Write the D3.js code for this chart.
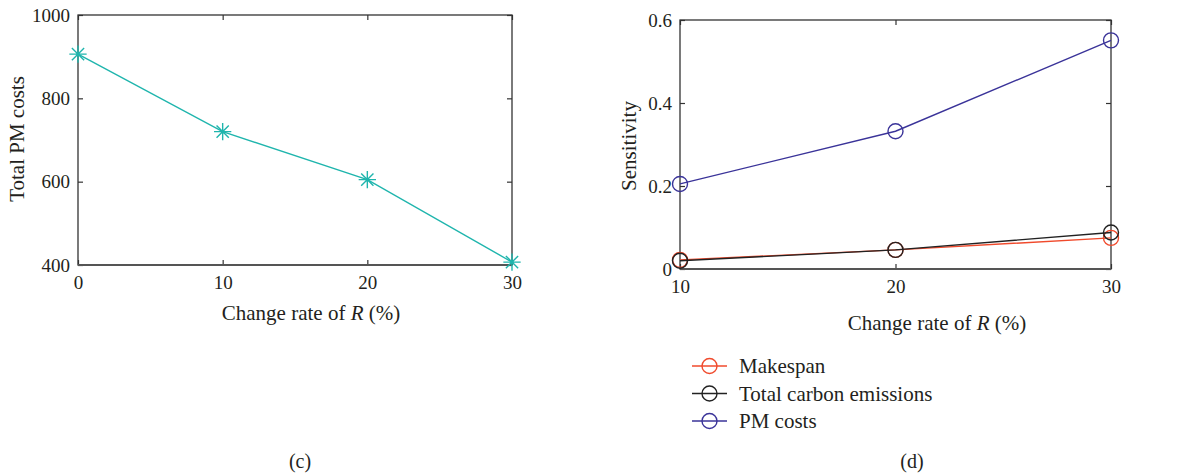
<!DOCTYPE html>
<html>
<head>
<meta charset="utf-8">
<script src="https://cdn.jsdelivr.net/npm/d3@7"></script>
<style>
  body { margin: 0; background: #fff; }
  svg text { font-family: "Liberation Serif", "DejaVu Serif", serif; fill: #231f20; }
</style>
</head>
<body>
<div id="viz"></div>
<script>
// panel (c)
const rateC = [0, 10, 20, 30];
const pmCosts = [906, 720, 605, 407];
const ticksCX = [0, 10, 20, 30];
const ticksCY = [400, 600, 800, 1000];

// panel (d)
const rateD = [10, 20, 30];
const makespan = [0.022, 0.046, 0.075];
const carbon = [0.020, 0.046, 0.088];
const pmSens = [0.205, 0.332, 0.551];
const ticksDX = [10, 20, 30];
const ticksDY = [0, 0.2, 0.4, 0.6];
const seriesNames = ["Makespan", "Total carbon emissions", "PM costs"];
const seriesColors = ["#f04a2c", "#222222", "#3a3399"];

const width = 1204, height = 474;
const svg = d3.select("#viz").append("svg")
  .attr("width", width).attr("height", height);

function frame(x, y, xt, yt, fmtY) {
  const g = svg.append("g");
  const [x0, x1] = x.range();
  const [y0, y1] = y.range();
  g.append("g").attr("transform", `translate(0,${y0})`)
    .call(d3.axisBottom(x).tickValues(xt).tickSize(-5).tickPadding(11));
  g.append("g").attr("transform", `translate(0,${y1})`)
    .call(d3.axisTop(x).tickValues(xt).tickSize(-5).tickFormat(""));
  g.append("g").attr("transform", `translate(${x0},0)`)
    .call(d3.axisLeft(y).tickValues(yt).tickSize(-5).tickPadding(8).tickFormat(fmtY));
  g.append("g").attr("transform", `translate(${x1},0)`)
    .call(d3.axisRight(y).tickValues(yt).tickSize(-5).tickFormat(""));
  g.selectAll(".domain").remove();
  g.selectAll(".tick line").attr("stroke", "#333").attr("stroke-width", 1.2);
  g.selectAll(".tick text").style("font-size", "19px").attr("fill", "#231f20");
  g.append("rect").attr("x", x0).attr("y", y1).attr("width", x1 - x0).attr("height", y0 - y1)
    .attr("fill", "none").attr("stroke", "#333").attr("stroke-width", 1.3);
  g.append("line").attr("x1", x0).attr("x2", x1).attr("y1", y0).attr("y2", y0)
    .attr("stroke", "#555").attr("stroke-width", 2.2);
  return g;
}

function xTitle(cx, cy) {
  const t = svg.append("text").attr("x", cx).attr("y", cy).attr("text-anchor", "middle")
    .style("font-size", "21px");
  t.append("tspan").text("Change rate of ");
  t.append("tspan").style("font-style", "italic").text("R");
  t.append("tspan").text(" (%)");
}

function yTitle(cx, cy, label) {
  svg.append("text").attr("transform", `translate(${cx},${cy}) rotate(-90)`)
    .attr("text-anchor", "middle").style("font-size", "21px").text(label);
}

// ---- panel (c)
const xc = d3.scaleLinear().domain([0, 30]).range([78, 512]);
const yc = d3.scaleLinear().domain([400, 1000]).range([265, 15]);
frame(xc, yc, ticksCX, ticksCY, d3.format("d"));

const teal = "#1fb5ad";
svg.append("path").datum(rateC.map((r, i) => [r, pmCosts[i]]))
  .attr("fill", "none").attr("stroke", teal).attr("stroke-width", 1.4)
  .attr("d", d3.line().x(d => xc(d[0])).y(d => yc(d[1])));

const star = d3.symbol().type({
  draw(ctx, size) {
    const r = Math.sqrt(size) / 2;
    for (let k = 0; k < 4; k++) {
      const a = k * Math.PI / 4;
      ctx.moveTo(-r * Math.cos(a), -r * Math.sin(a));
      ctx.lineTo(r * Math.cos(a), r * Math.sin(a));
    }
  }
}).size(300);
svg.selectAll(".star").data(rateC.map((r, i) => [r, pmCosts[i]])).join("path")
  .attr("transform", d => `translate(${xc(d[0])},${yc(d[1])})`)
  .attr("d", star).attr("fill", "none").attr("stroke", teal).attr("stroke-width", 1.4);

xTitle(311, 320);
yTitle(24, 139, "Total PM costs");
svg.append("text").attr("x", 300).attr("y", 468).attr("text-anchor", "middle")
  .style("font-size", "20px").text("(c)");

// ---- panel (d)
const xd = d3.scaleLinear().domain([10, 30]).range([680, 1111]);
const yd = d3.scaleLinear().domain([0, 0.6]).range([269, 20]);
frame(xd, yd, ticksDX, ticksDY, d => d === 0 ? "0" : d3.format(".1f")(d));

const allSeries = [makespan, carbon, pmSens];
const order = [2, 0, 1];
order.forEach(si => {
  const pts = rateD.map((r, i) => [r, allSeries[si][i]]);
  svg.append("path").datum(pts)
    .attr("fill", "none").attr("stroke", seriesColors[si]).attr("stroke-width", 1.4)
    .attr("d", d3.line().x(d => xd(d[0])).y(d => yd(d[1])));
  svg.append("g").selectAll("circle").data(pts).join("circle")
    .attr("cx", d => xd(d[0])).attr("cy", d => yd(d[1])).attr("r", 7.5)
    .attr("fill", "none").attr("stroke", seriesColors[si]).attr("stroke-width", 1.4);
});

xTitle(937, 330);
yTitle(636, 146, "Sensitivity");

const leg = svg.append("g");
seriesNames.forEach((name, i) => {
  const y = 366 + i * 27.5;
  leg.append("line").attr("x1", 692).attr("x2", 727).attr("y1", y).attr("y2", y)
    .attr("stroke", seriesColors[i]).attr("stroke-width", 1.4);
  leg.append("circle").attr("cx", 709.5).attr("cy", y).attr("r", 7.5)
    .attr("fill", "none").attr("stroke", seriesColors[i]).attr("stroke-width", 1.4);
  leg.append("text").attr("x", 739).attr("y", y + 7).style("font-size", "21px").text(name);
});
svg.append("text").attr("x", 912).attr("y", 468).attr("text-anchor", "middle")
  .style("font-size", "20px").text("(d)");
</script>
</body>
</html>
